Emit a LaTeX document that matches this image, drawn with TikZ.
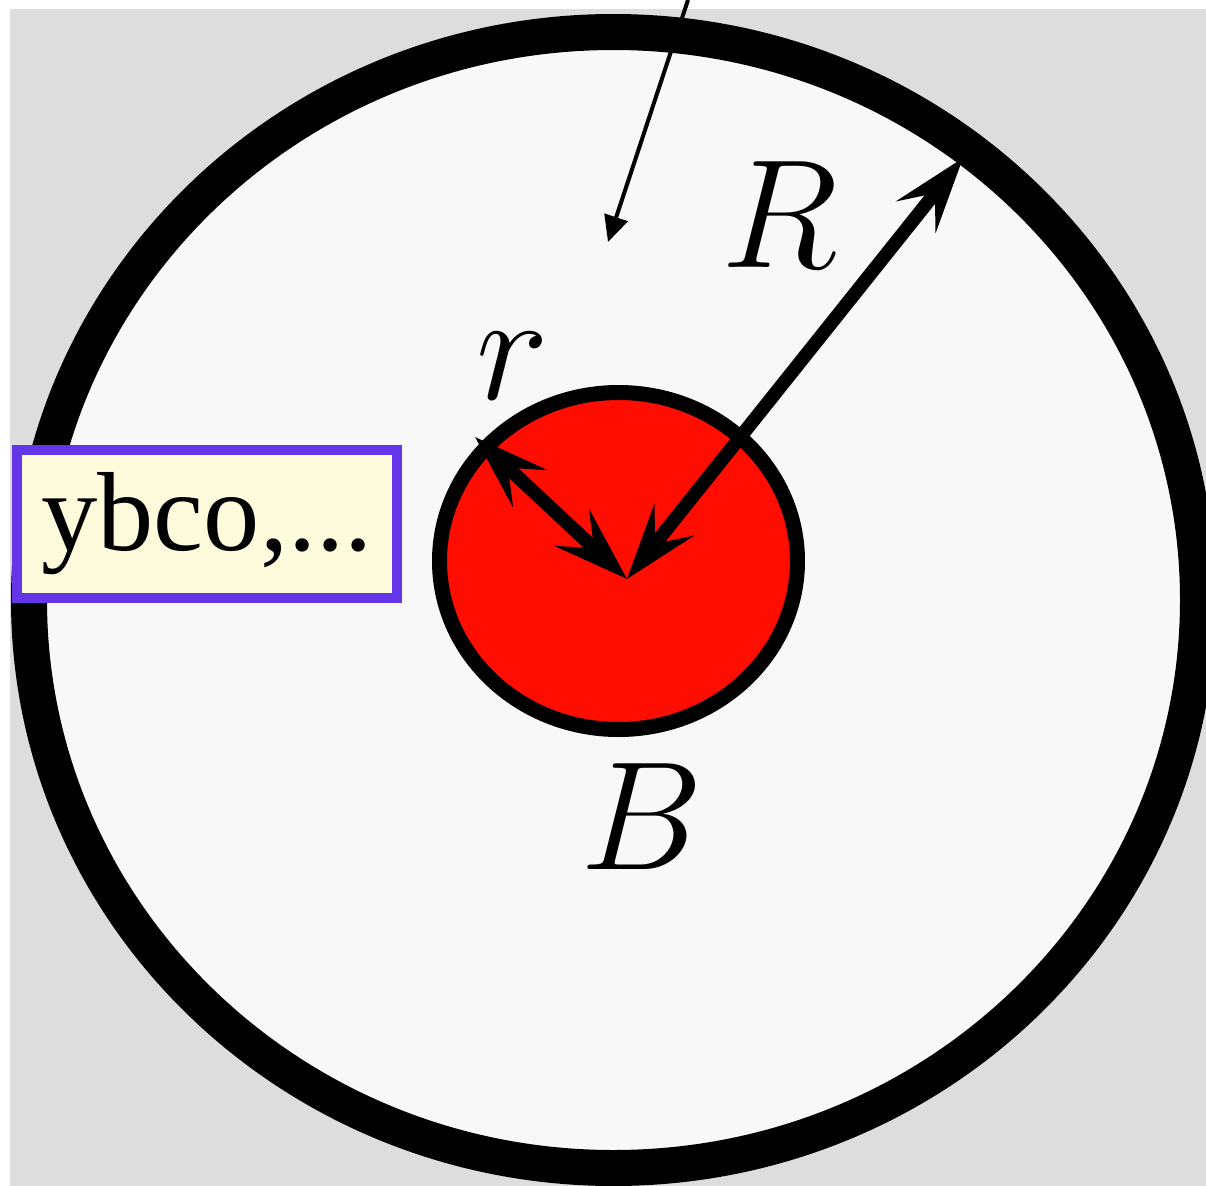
\documentclass[tikz,border=0pt]{standalone}
\usepackage{amsmath, amssymb}
\usepackage{fontspec}
\setmainfont{Liberation Serif}
\usepackage{tikz}
\usetikzlibrary{arrows.meta}

\definecolor{bggray}{HTML}{DDDDDD}
\definecolor{innerwhite}{HTML}{F8F8F8}
\definecolor{corered}{HTML}{FF0D00}
\definecolor{boxpurple}{HTML}{6535E8}
\definecolor{boxyellow}{HTML}{FEFADC}

\begin{document}
\begin{tikzpicture}[
    yscale=-1,
    ring/.style={draw=black, line width=3.6mm, fill=innerwhite},
    core/.style={draw=black, line width=1.5mm, fill=corered},
    dimarrow/.style={line width=1.35mm, {Stealth[length=7.5mm, width=5mm, inset=3mm]}-{Stealth[length=7.5mm, width=5mm, inset=3mm]}},
    pointer/.style={line width=0.4mm, -{Triangle[length=2.6mm, width=2.4mm]}},
    biglabel/.style={font=\Huge, scale=1.77, inner sep=0pt},
    tagbox/.style={draw=boxpurple, fill=boxyellow, line width=1mm, rectangle, minimum width=3.8cm, minimum height=1.48cm, inner sep=0pt, font=\fontsize{32}{38}\selectfont}
]
    \useasboundingbox (0,0) rectangle (12.06,11.86);

    % Background and outer ring
    \begin{scope}
        \clip (0.10,0.09) rectangle (12.06,11.86);
        \fill[bggray] (0.10,0.09) rectangle (12.06,11.86);
        \draw[ring] (6.135,6.00) ellipse [x radius=5.845, y radius=5.68];
    \end{scope}

    % Inner core
    \draw[core] (6.185,5.61) ellipse [x radius=1.79, y radius=1.685];

    % Radii
    \coordinate (centre) at (6.27,5.79);
    \coordinate (r_end) at (4.75,4.37);
    \coordinate (R_end) at (9.63,1.58);
    \draw[dimarrow] (r_end) -- (centre);
    \draw[dimarrow] (centre) -- (R_end);

    % Labels
    \node[biglabel] (R_lbl) at (7.80,2.15) {$R$};
    \node[biglabel] (r_lbl) at (5.13,3.66) {$r$};
    \node[biglabel] (B_lbl) at (6.42,8.17) {$B$};

    % Pointer from above
    \coordinate (ptr_from) at (6.88,0);
    \coordinate (ptr_to) at (6.08,2.42);
    \draw[pointer] (ptr_from) -- (ptr_to);

    % Material tag
    \node[tagbox] (material) at (2.07,5.24) {\raisebox{-0.5mm}{ybco,...}};

\end{tikzpicture}
\end{document}
